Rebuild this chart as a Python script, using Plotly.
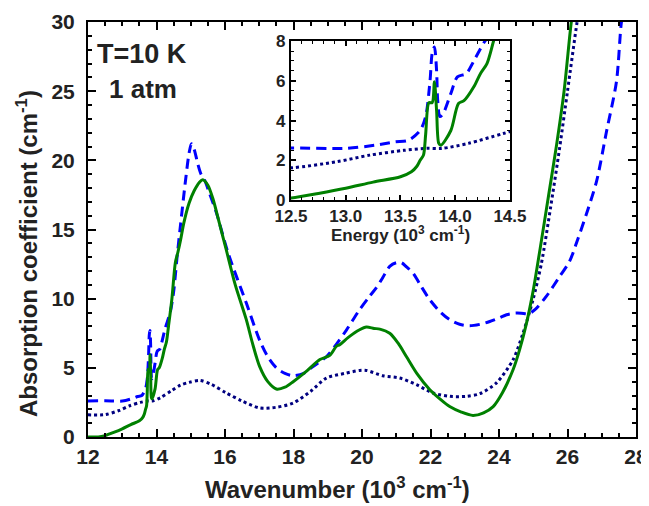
import plotly.graph_objects as go

# ---- data (x in 10^3 cm^-1, absorption coefficient in cm^-1) ----
green_x = [12.0, 12.3, 12.5, 12.75, 13.0, 13.25, 13.5, 13.6, 13.65, 13.68, 13.71, 13.73, 13.76, 13.79,
           13.81, 13.83, 13.85, 13.87, 13.96, 14.03, 14.08, 14.17, 14.23, 14.29, 14.35, 14.45, 14.55,
           14.62, 14.7, 14.8, 14.95, 15.1, 15.25, 15.35, 15.5, 15.65, 15.8, 16.04, 16.3, 16.62, 16.8,
           17.01, 17.25, 17.5, 17.75, 17.99, 18.4, 18.77, 19.06, 19.25, 19.35, 19.6, 19.93, 20.13,
           20.35, 20.52, 20.81, 21.05, 21.3, 21.6, 21.98, 22.3, 22.56, 22.9, 23.24, 23.55, 23.83,
           24.1, 24.41, 24.6, 24.8, 25.0, 25.2, 25.45, 25.68, 25.9, 26.11, 26.2]
green_y = [0.0, 0.0, 0.1, 0.33, 0.59, 0.9, 1.17, 1.42, 1.7, 2.0, 2.26, 3.3, 4.9, 4.9,
           5.95, 4.5, 2.85, 2.76, 3.5, 4.86, 5.0, 5.7, 6.36, 6.87, 8.0, 10.0, 12.6,
           13.3, 14.2, 15.5, 16.9, 17.8, 18.4, 18.6, 18.2, 17.2, 15.8, 13.5, 11.0, 8.5, 6.8,
           5.1, 4.0, 3.47, 3.6, 4.0, 4.8, 5.6, 5.9, 6.55, 6.67, 7.2, 7.75, 7.95,
           7.85, 7.8, 7.5, 6.8, 5.8, 4.6, 3.42, 2.7, 2.2, 1.8, 1.56, 1.75, 2.2,
           3.2, 4.86, 6.3, 8.2, 10.6, 13.6, 17.5, 21.1, 25.0, 30.0, 31.5]

blue_x = [12.0, 12.5, 13.0, 13.27, 13.45, 13.57, 13.68, 13.73, 13.77, 13.79, 13.81, 13.83, 13.84,
          13.86, 13.89, 13.96, 14.02, 14.1, 14.17, 14.26, 14.4, 14.5, 14.6, 14.7, 14.85, 14.95,
          15.02, 15.1, 15.2, 15.3, 15.4, 15.55, 15.75, 16.09, 16.62, 17.01, 17.25, 17.5, 17.75,
          17.99, 18.3, 18.57, 18.96, 19.25, 19.55, 19.93, 20.2, 20.42, 20.6, 20.81, 21.0, 21.15,
          21.3, 21.49, 21.7, 21.98, 22.3, 22.56, 22.85, 23.14, 23.45, 23.73, 24.0, 24.22, 24.45,
          24.65, 24.85, 25.05, 25.38, 25.77, 26.06, 26.3, 26.55, 26.85, 27.14, 27.43, 27.57, 27.65]
blue_y = [2.6, 2.62, 2.6, 2.76, 2.93, 3.0, 3.5, 4.2, 6.0, 7.4, 7.7, 6.5, 5.0,
          4.2, 4.35, 5.36, 6.2, 6.36, 7.0, 7.9, 9.0, 10.5, 13.0, 15.3, 18.6, 20.5,
          21.2, 20.8, 19.8, 19.0, 18.6, 17.6, 16.2, 13.3, 9.7, 7.0, 5.8, 5.0, 4.6,
          4.43, 4.6, 5.1, 5.8, 6.7, 7.75, 9.2, 10.1, 10.8, 11.5, 12.33, 12.6, 12.6,
          12.3, 11.85, 11.0, 9.92, 9.0, 8.48, 8.15, 8.04, 8.15, 8.35, 8.6, 8.84, 8.95,
          8.95, 8.9, 9.2, 10.16, 11.6, 12.7, 14.3, 16.1, 18.5, 22.1, 25.7, 29.9, 31.0]

dot_x = [12.0, 12.5, 12.92, 13.22, 13.53, 13.73, 13.88, 14.12, 14.44, 14.7, 14.95, 15.26, 15.6,
         16.04, 16.5, 17.01, 17.5, 17.99, 18.5, 18.96, 19.5, 19.93, 20.13, 20.61, 21.1, 21.59,
         22.07, 22.56, 23.05, 23.44, 23.92, 24.41, 24.7, 24.99, 25.24, 25.5, 25.77, 26.0, 26.28, 26.35]
dot_y = [1.6, 1.62, 1.93, 2.26, 2.5, 2.6, 2.6, 2.85, 3.35, 3.75, 3.95, 4.09, 3.8,
         3.18, 2.6, 2.1, 2.15, 2.46, 3.3, 4.26, 4.6, 4.81, 4.81, 4.43, 4.26, 3.78,
         3.18, 2.94, 2.94, 3.13, 3.9, 5.58, 7.5, 9.9, 12.57, 16.5, 20.9, 25.0, 30.0, 31.0]

FONT = "Arial, Liberation Sans, sans-serif"
TXT = "#222222"

fig = go.Figure()
for ax in [("x", "y"), ("x2", "y2")]:
    fig.add_trace(go.Scatter(x=dot_x, y=dot_y, mode="lines", xaxis=ax[0], yaxis=ax[1],
                             line=dict(color="#000080", width=3, dash="3px,3px", shape="spline", smoothing=0.8),
                             showlegend=False))
    fig.add_trace(go.Scatter(x=blue_x, y=blue_y, mode="lines", xaxis=ax[0], yaxis=ax[1],
                             line=dict(color="#0000FF", width=3, dash="10px,6px", shape="spline", smoothing=0.8),
                             showlegend=False))
    fig.add_trace(go.Scatter(x=green_x, y=green_y, mode="lines", xaxis=ax[0], yaxis=ax[1],
                             line=dict(color="#008000", width=3, shape="spline", smoothing=0.8),
                             showlegend=False))

common = dict(showgrid=False, zeroline=False, showline=True, linecolor="black", linewidth=2,
              mirror="ticks", ticks="inside", tickcolor="black", automargin=False)

# plot area in window pixels: x 88..636, y 22..437 (page body adds an 8px offset)
W, H = 548.0, 415.0
def px(xp, yp):
    return (xp - 88) / W, (437 - yp) / H

anns = []
x0, y0 = px(95, 54)
anns.append(dict(text="T=10 K", x=x0, y=y0, xref="paper", yref="paper", showarrow=False,
                 xanchor="left", yanchor="middle", font=dict(size=27, family=FONT, weight="bold", color=TXT)))
x0, y0 = px(107, 89)
anns.append(dict(text="1 atm", x=x0, y=y0, xref="paper", yref="paper", showarrow=False,
                 xanchor="left", yanchor="middle", font=dict(size=26, family=FONT, weight="bold", color=TXT)))
x0, y0 = px(337, 488)
anns.append(dict(text="Wavenumber (10<sup>3</sup> cm<sup>-1</sup>)", x=x0, y=y0, xref="paper", yref="paper",
                 showarrow=False, xanchor="center", yanchor="middle",
                 font=dict(size=24, family=FONT, weight="bold", color=TXT)))
x0, y0 = px(27, 254)
anns.append(dict(text="Absorption coefficient (cm<sup>-1</sup>)", x=x0, y=y0, xref="paper", yref="paper",
                 showarrow=False, xanchor="center", yanchor="middle", textangle=-90,
                 font=dict(size=24, family=FONT, weight="bold", color=TXT)))
x0, y0 = px(400.5, 234)
anns.append(dict(text="Energy (10<sup>3</sup> cm<sup>-1</sup>)", x=x0, y=y0, xref="paper", yref="paper",
                 showarrow=False, xanchor="center", yanchor="middle",
                 font=dict(size=17, family=FONT, weight="bold", color=TXT)))

fig.update_layout(
    width=641, height=498,
    margin=dict(l=80, r=13, t=14, b=69, autoexpand=False),
    plot_bgcolor="white", paper_bgcolor="white",
    font=dict(family=FONT, color=TXT),
    xaxis=dict(range=[12, 28], dtick=2, tick0=12, ticklen=8, tickwidth=2,
               minor=dict(dtick=0.5, ticks="inside", ticklen=4, tickwidth=1.5, tickcolor="black"),
               tickfont=dict(size=21, family=FONT, weight="bold", color=TXT),
               **common),
    yaxis=dict(range=[0, 30], dtick=5, tick0=0, ticklen=8, tickwidth=2,
               minor=dict(dtick=1, ticks="inside", ticklen=4, tickwidth=1.5, tickcolor="black"),
               tickfont=dict(size=21, family=FONT, weight="bold", color=TXT), ticklabelstandoff=7,
               **common),
    xaxis2=dict(domain=[0.3704, 0.770], anchor="y2", range=[12.5, 14.5], tick0=12.5, dtick=0.5,
                tickformat=".1f", ticklen=5, tickwidth=1.5,
                minor=dict(dtick=0.1, ticks="inside", ticklen=3, tickwidth=1, tickcolor="black"),
                tickfont=dict(size=17, family=FONT, weight="bold", color=TXT),
                **common),
    yaxis2=dict(domain=[0.571, 0.954], anchor="x2", range=[0, 8], tick0=0, dtick=2,
                ticklen=5, tickwidth=1.5,
                minor=dict(dtick=0.5, ticks="inside", ticklen=3, tickwidth=1, tickcolor="black"),
                tickfont=dict(size=17, family=FONT, weight="bold", color=TXT), **common),
    annotations=anns,
)

fig.write_html("out.html")
